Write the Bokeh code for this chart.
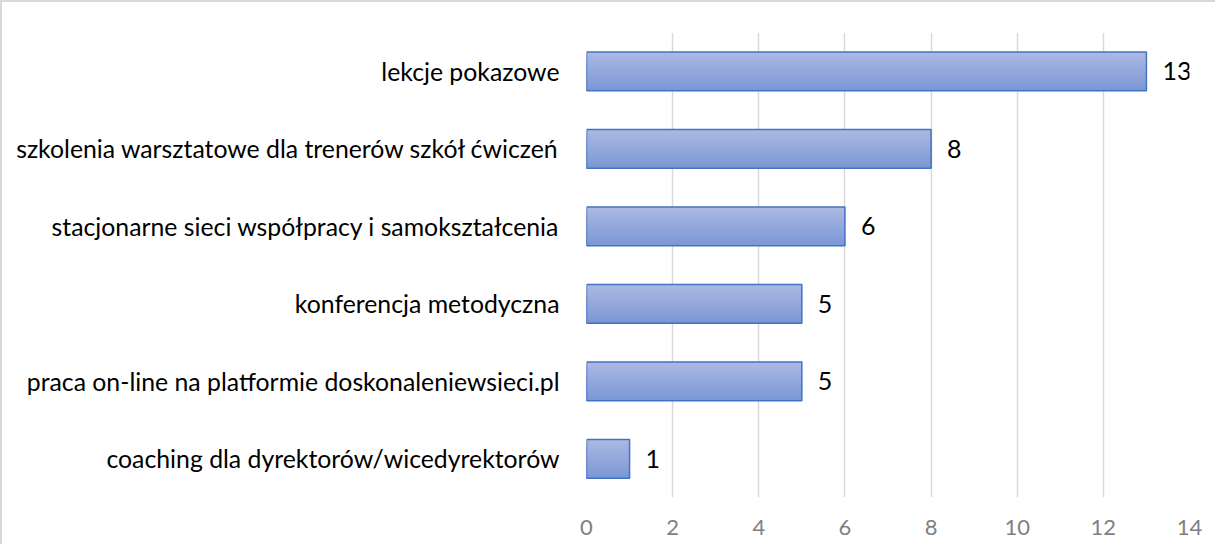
import numpy as np
from bokeh.plotting import figure
from bokeh.models import Range1d, FixedTicker, ColumnDataSource
from bokeh.core.properties import value
from bokeh.embed import file_html
from bokeh.resources import INLINE

categories = [
    "lekcje pokazowe",
    "szkolenia warsztatowe dla trenerów szkół ćwiczeń",
    "stacjonarne sieci współpracy i samokształcenia",
    "konferencja metodyczna",
    "praca on-line na platformie doskonaleniewsieci.pl",
    "coaching dla dyrektorów/wicedyrektorów",
]
values = [13, 8, 6, 5, 5, 1]
x_ticks = [0, 2, 4, 6, 8, 10, 12, 14]

FONT = "Lato"
n = len(categories)
ys = [n - 1 - i for i in range(n)]

p = figure(width=1215, height=544, output_backend="svg", toolbar_location=None,
           x_range=Range1d(0, 14), y_range=Range1d(-0.5, n - 0.5),
           min_border_left=584, min_border_right=28, min_border_top=30, min_border_bottom=49)
p.styles = {"border-top": "2px solid #d9d9d9", "border-left": "2px solid #d9d9d9"}
p.outline_line_color = None
p.background_fill_color = "white"
p.border_fill_color = "white"

# vertical gradient: nested rectangles, each from its strip top to the bar bottom
bar_h = 0.5
N = 24
top_rgb = np.array([172, 186, 227])
bot_rgb = np.array([122, 150, 213])
for k in range(N):
    t = (k + 0.5) / N
    c = top_rgb * (1 - t) + bot_rgb * t
    col = "#%02x%02x%02x" % tuple(int(round(v)) for v in c)
    h_k = bar_h * (N - k) / N
    yk = [y - bar_h / 2 + h_k / 2 for y in ys]
    p.hbar(y=yk, left=0, right=values, height=h_k,
           fill_color=col, line_color=None)

p.hbar(y=ys, left=0, right=values, height=bar_h, fill_alpha=0,
       line_color="#4472c4", line_width=1.5)

src = ColumnDataSource(dict(x=values, y=ys, t=[str(v) for v in values]))
p.text(x="x", y="y", text="t", source=src, x_offset=16, text_align="left",
       text_baseline="middle", text_font=value(FONT), text_font_size="25px",
       text_color="#000000")

p.ygrid.visible = False
p.xgrid.grid_line_color = "#d9d9d9"
p.xgrid.grid_line_width = 1.5
p.xaxis.ticker = FixedTicker(ticks=x_ticks)
p.yaxis.ticker = FixedTicker(ticks=ys)
p.yaxis.major_label_overrides = {y: c for y, c in zip(ys, categories)}

for ax in (p.xaxis[0], p.yaxis[0]):
    ax.axis_line_color = None
    ax.major_tick_line_color = None
    ax.minor_tick_line_color = None
    ax.major_label_text_font = FONT

p.yaxis.major_label_text_font_size = "24.8px"
p.yaxis.major_label_text_color = "#000000"
p.yaxis.major_label_standoff = 21
p.xaxis.major_label_text_font_size = "22px"
p.xaxis.major_label_text_color = "#808080"
p.xaxis.major_label_standoff = 16

open("out.html", "w").write(file_html(p, INLINE))
